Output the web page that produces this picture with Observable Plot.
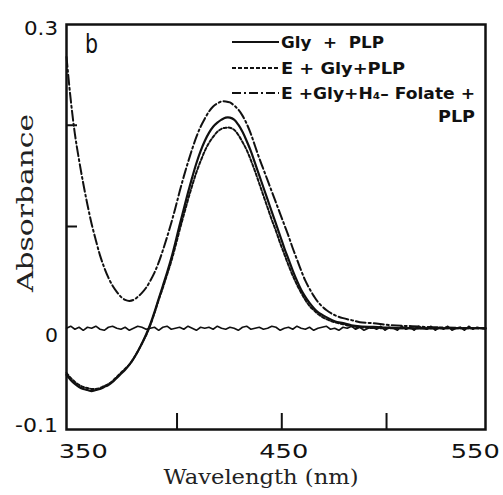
<!DOCTYPE html>
<html><head><meta charset="utf-8">
<script src="https://cdn.jsdelivr.net/npm/d3@7"></script>
<script src="https://cdn.jsdelivr.net/npm/@observablehq/plot@0.6"></script>
<style>html,body{margin:0;padding:0;background:#fff}#chart svg{display:block}</style>
</head><body><div id="chart"></div>
<script>
// ---- data ----
const glyWavelength = [347,349,351,353,355,357,359,361,363,365,367,369,371,373,375,377,379,381,383,385,387,389,391,393,395,397,399,401,403,405,407,409,411,413,415,417,419,421,423,425,427,429,431,433,435,437,439,441,443,445,447,449,451,453,455,457,459,461,463,465,467,471,475,479,483,487,497,507,527,547];
const glyPlpAbs = [-0.046,-0.051,-0.055,-0.058,-0.060,-0.061,-0.062,-0.061,-0.060,-0.058,-0.056,-0.053,-0.049,-0.045,-0.041,-0.036,-0.030,-0.023,-0.015,-0.006,0.004,0.016,0.029,0.042,0.055,0.069,0.085,0.102,0.118,0.134,0.149,0.163,0.175,0.185,0.193,0.199,0.203,0.206,0.208,0.208,0.206,0.201,0.194,0.185,0.175,0.163,0.151,0.139,0.127,0.115,0.103,0.091,0.079,0.068,0.057,0.047,0.038,0.031,0.025,0.020,0.016,0.011,0.007,0.005,0.003,0.002,0.001,0.000,0.000,0.000];
const eGlyPlpAbs = [-0.044,-0.049,-0.053,-0.056,-0.058,-0.059,-0.060,-0.060,-0.059,-0.057,-0.055,-0.052,-0.048,-0.044,-0.040,-0.036,-0.030,-0.023,-0.015,-0.007,0.003,0.015,0.028,0.040,0.053,0.066,0.081,0.097,0.112,0.127,0.141,0.154,0.165,0.175,0.183,0.189,0.194,0.197,0.198,0.198,0.196,0.191,0.184,0.176,0.166,0.155,0.143,0.131,0.119,0.107,0.096,0.084,0.073,0.062,0.052,0.043,0.035,0.028,0.022,0.018,0.014,0.009,0.006,0.004,0.002,0.001,0.000,0.000,0.000,0.000];
const folateWavelength = [347,349,351,353,355,357,359,361,363,365,367,369,371,373,375,377,379,381,383,385,387,389,391,393,395,397,399,401,403,405,407,409,411,413,415,417,419,421,423,425,427,429,431,433,435,437,439,441,443,445,447,449,451,453,455,457,459,461,463,465,467,471,475,479,483,487,493,502,512,522,547];
const eGlyFolatePlpAbs = [0.268,0.226,0.192,0.166,0.143,0.122,0.103,0.087,0.072,0.060,0.050,0.042,0.036,0.031,0.028,0.027,0.028,0.031,0.035,0.040,0.047,0.055,0.065,0.077,0.090,0.104,0.119,0.135,0.150,0.164,0.177,0.189,0.199,0.207,0.214,0.219,0.222,0.224,0.224,0.223,0.220,0.216,0.210,0.202,0.192,0.180,0.168,0.157,0.146,0.135,0.124,0.113,0.102,0.091,0.079,0.068,0.057,0.047,0.039,0.032,0.026,0.018,0.013,0.010,0.008,0.006,0.005,0.003,0.002,0.001,0.000];
// baseline trace (noisy, small wiggles about 0), every 2 nm from 347 to 547
const baselineAbs = [0,0.002,-0.001,0.001,-0.002,0.001,0,0.002,-0.001,-0.002,0.001,0.002,0,-0.001,0.001,-0.002,0,0.002,0.001,-0.001,0,0.001,-0.002,0.001,0.002,-0.001,0,0.001,-0.001,0.002,0,-0.002,0.001,0,0.001,-0.001,0.002,0,-0.001,0.001,0,-0.002,0.001,0.002,-0.001,0,0.001,-0.001,0,0.002,0.001,-0.002,0,0.001,-0.001,0.002,0,-0.001,0.001,-0.002,0,0.001,0.002,-0.001,0,-0.002,0.001,0,0.002,-0.001,0.001,-0.002,0,0.001,-0.001,0.002,-0.002,0.001,0,-0.002,0.002,-0.001,0.001,-0.002,0.002,0,-0.001,0.002,-0.002,0.001,-0.001,0.002,-0.002,0,0.001,-0.002,0.002,-0.001,0.001,0,-0.001];
const baselineWavelength = baselineAbs.map((_, i) => 347 + 2 * i);

const xTickMarks = [400, 450, 500];
const yTickMarks = [0.1, 0.2];
const xTickLabels = [350, 450, 550];
const yTickLabels = [0.3, 0, -0.1];
const yTickText = ["0.3", "0", "-0.1"];
const legendLabels = ["Gly  +  PLP", "E + Gly+PLP", "E +Gly+H\u2084\u2013 Folate +", "PLP"];
const panelLabel = "b";
const xTitle = "Wavelength (nm)";
const yTitle = "Absorbance";

// ---- build ----
const toRows = (ws, as) => ws.map((w, i) => ({w, a: as[i]}));
const W = 503, H = 495, mL = 66, mR = 18, mT = 24, mB = 66;

const chart = Plot.plot({
  width: W, height: H,
  marginLeft: mL, marginRight: mR, marginTop: mT, marginBottom: mB,
  x: {domain: [347, 547], axis: null},
  y: {domain: [-0.1, 0.3], axis: null},
  style: {background: "white"},
  marks: [
    Plot.line(toRows(baselineWavelength, baselineAbs), {x: "w", y: "a", stroke: "#111", strokeWidth: 1.6}),
    Plot.line(toRows(glyWavelength, glyPlpAbs), {x: "w", y: "a", stroke: "#111", strokeWidth: 2.2, curve: "catmull-rom"}),
    Plot.line(toRows(glyWavelength, eGlyPlpAbs), {x: "w", y: "a", stroke: "#111", strokeWidth: 2, strokeDasharray: "3,2", curve: "catmull-rom"}),
    Plot.line(toRows(folateWavelength, eGlyFolatePlpAbs), {x: "w", y: "a", stroke: "#111", strokeWidth: 2, strokeDasharray: "10,3,2,3", curve: "catmull-rom"}),
    Plot.frame({stroke: "#111", strokeWidth: 2.5})
  ]
});
document.getElementById("chart").appendChild(chart);

const svg = d3.select(chart);
const xs = chart.scale("x"), ys = chart.scale("y");
const yBottom = H - mB;

// inward ticks
xTickMarks.forEach(v => svg.append("line")
  .attr("x1", xs.apply(v)).attr("x2", xs.apply(v))
  .attr("y1", yBottom).attr("y2", yBottom - 16)
  .attr("stroke", "#111").attr("stroke-width", 2));
yTickMarks.forEach(v => svg.append("line")
  .attr("x1", mL).attr("x2", mL + 11)
  .attr("y1", ys.apply(v)).attr("y2", ys.apply(v))
  .attr("stroke", "#111").attr("stroke-width", 2));

// tick labels
const xLabelDx = [11, 2, -16];
xTickLabels.forEach((v, i) => svg.append("text")
  .attr("x", xs.apply(v) + xLabelDx[i]).attr("y", 458)
  .attr("text-anchor", "middle")
  .attr("font-family", "DejaVu Sans").attr("font-size", 20)
  .attr("textLength", 49).attr("lengthAdjust", "spacingAndGlyphs")
  .attr("fill", "#111").text(String(v)));
const yLabelDy = [11, 14, 3];
const yLabelLen = [34, 13, 43];
yTickLabels.forEach((v, i) => svg.append("text")
  .attr("x", 58).attr("y", ys.apply(v) + yLabelDy[i])
  .attr("text-anchor", "end")
  .attr("font-family", "DejaVu Sans").attr("font-size", 19)
  .attr("textLength", yLabelLen[i]).attr("lengthAdjust", "spacingAndGlyphs")
  .attr("fill", "#111").text(yTickText[i]));

// axis titles
svg.append("text").attr("x", 261).attr("y", 484).attr("text-anchor", "middle")
  .attr("font-family", "DejaVu Serif").attr("font-size", 21)
  .attr("textLength", 195).attr("lengthAdjust", "spacingAndGlyphs")
  .attr("fill", "#222").text(xTitle);
svg.append("text").attr("transform", "translate(33,203) rotate(-90)").attr("text-anchor", "middle")
  .attr("font-family", "DejaVu Serif").attr("font-size", 22)
  .attr("textLength", 178).attr("lengthAdjust", "spacingAndGlyphs")
  .attr("fill", "#222").text(yTitle);

// panel label
svg.append("text").attr("x", 85).attr("y", 53).attr("text-anchor", "start")
  .attr("font-family", "DejaVu Sans").attr("font-size", 27)
  .attr("textLength", 13).attr("lengthAdjust", "spacingAndGlyphs")
  .attr("fill", "#111").text(panelLabel);

// legend
const legRows = [
  {y: 42, dash: null, len: 103},
  {y: 68, dash: "4,2", len: 124},
  {y: 93, dash: "9,3,2,3", len: 194}
];
legRows.forEach((r, i) => {
  const ln = svg.append("line").attr("x1", 232).attr("x2", 279)
    .attr("y1", r.y).attr("y2", r.y).attr("stroke", "#111").attr("stroke-width", 2);
  if (r.dash) ln.attr("stroke-dasharray", r.dash);
  svg.append("text").attr("x", 281).attr("y", r.y + 6).attr("text-anchor", "start")
    .attr("font-family", "DejaVu Sans").attr("font-weight", "bold").attr("font-size", 15)
    .attr("textLength", r.len).attr("lengthAdjust", "spacingAndGlyphs")
    .attr("fill", "#111").text(legendLabels[i]);
});
svg.append("text").attr("x", 475).attr("y", 122).attr("text-anchor", "end")
  .attr("font-family", "DejaVu Sans").attr("font-weight", "bold").attr("font-size", 15)
  .attr("textLength", 37).attr("lengthAdjust", "spacingAndGlyphs")
  .attr("fill", "#111").text(legendLabels[3]);
</script>
</body></html>
